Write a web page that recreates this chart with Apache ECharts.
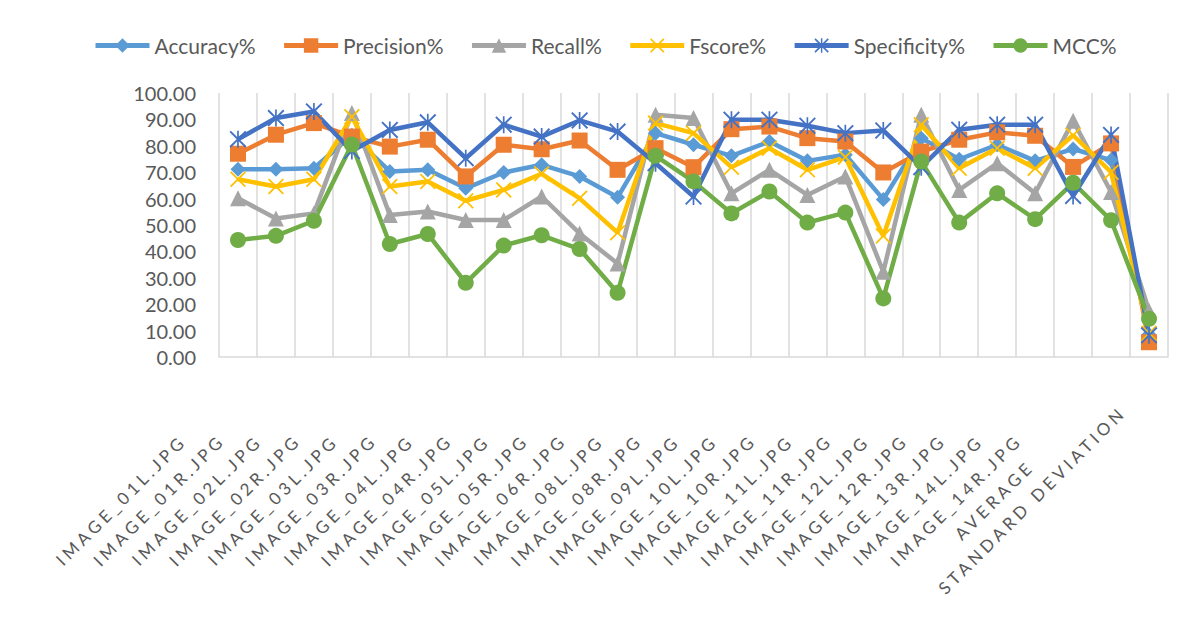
<!DOCTYPE html>
<html>
<head>
<meta charset="utf-8">
<script src="https://cdn.jsdelivr.net/npm/echarts@6/dist/echarts.min.js"></script>
<style>
  html, body { margin: 0; padding: 0; background: #fff; }
  #chart { width: 1196px; height: 631px; }
</style>
</head>
<body>
<div id="chart"></div>
<script>
// Image names plus the two summary rows
const categories = [
  'IMAGE_01L.JPG', 'IMAGE_01R.JPG', 'IMAGE_02L.JPG', 'IMAGE_02R.JPG', 'IMAGE_03L.JPG',
  'IMAGE_03R.JPG', 'IMAGE_04L.JPG', 'IMAGE_04R.JPG', 'IMAGE_05L.JPG', 'IMAGE_05R.JPG',
  'IMAGE_06R.JPG', 'IMAGE_08L.JPG', 'IMAGE_08R.JPG', 'IMAGE_09L.JPG', 'IMAGE_10L.JPG',
  'IMAGE_10R.JPG', 'IMAGE_11L.JPG', 'IMAGE_11R.JPG', 'IMAGE_12L.JPG', 'IMAGE_12R.JPG',
  'IMAGE_13R.JPG', 'IMAGE_14L.JPG', 'IMAGE_14R.JPG', 'AVERAGE', 'STANDARD DEVIATION'
];

const accuracy = [71.1, 71.1, 71.5, 84.0, 70.3, 70.9, 63.9, 69.9, 72.8, 68.4, 60.5, 84.8, 80.4,
  76.2, 81.6, 74.3, 76.6, 59.7, 82.9, 74.9, 80.4, 74.3, 78.8, 74.6, 8.5];
const precision = [77.0, 84.2, 88.6, 83.5, 79.7, 82.3, 68.4, 80.4, 78.7, 82.0, 70.9, 79.1, 71.9,
  86.3, 87.3, 82.9, 81.6, 69.9, 77.8, 82.3, 85.1, 83.8, 72.0, 80.9, 5.6];
const recall = [60.1, 52.5, 54.4, 92.4, 53.8, 55.1, 51.9, 51.9, 60.8, 46.8, 35.4, 91.8, 90.5,
  62.0, 70.9, 61.4, 68.4, 32.3, 91.8, 63.3, 73.4, 62.0, 89.5, 62.5, 17.5];
const fscore = [67.3, 64.6, 67.3, 91.0, 64.6, 66.5, 59.2, 63.3, 69.4, 60.1, 47.1, 88.6, 84.8,
  71.9, 79.1, 70.9, 75.7, 45.8, 88.0, 71.5, 79.1, 71.5, 84.0, 70.0, 9.0];
const specificity = [82.5, 90.5, 93.0, 78.0, 86.0, 88.9, 75.3, 88.0, 83.5, 89.6, 85.4, 73.4, 60.8,
  89.9, 89.9, 87.6, 84.8, 85.8, 71.9, 86.1, 88.0, 88.0, 61.0, 84.1, 8.2];
const mcc = [44.3, 45.9, 51.6, 80.5, 42.8, 46.6, 28.1, 42.2, 46.1, 40.9, 24.3, 76.2, 66.5,
  54.4, 62.7, 50.9, 54.7, 22.2, 74.1, 50.9, 62.0, 52.2, 66.0, 51.8, 14.5];

const yTicks = { min: 0, max: 100, step: 10 };

// Marker shapes for the cross and the star markers
const crossPath = 'path://M0,8 L8,0 L50,42 L92,0 L100,8 L58,50 L100,92 L92,100 L50,58 L8,100 L0,92 L42,50 Z';
const starPath = crossPath + ' M45,0 L55,0 L55,100 L45,100 Z';

const seriesDefs = [
  { name: 'Accuracy%', data: accuracy, color: '#5B9BD5', symbol: 'diamond', size: 15 },
  { name: 'Precision%', data: precision, color: '#ED7D31', symbol: 'rect', size: 16 },
  { name: 'Recall%', data: recall, color: '#A5A5A5', symbol: 'triangle', size: 16 },
  { name: 'Fscore%', data: fscore, color: '#FFC000', symbol: crossPath, size: 16 },
  { name: 'Specificity%', data: specificity, color: '#4472C4', symbol: starPath, size: 17 },
  { name: 'MCC%', data: mcc, color: '#70AD47', symbol: 'circle', size: 16 }
];

const chartEl = document.getElementById('chart');
const chart = echarts.init(chartEl, null, { renderer: 'svg' });

// Slanted category labels get wide tracking
function spaceSlantedLabels() {
  chartEl.querySelectorAll('svg text').forEach(t => {
    const m = t.getCTM();
    if (m && Math.abs(m.b) > 0.1) {
      t.style.letterSpacing = '4px';
      t.setAttribute('letter-spacing', '4px');
    }
  });
}
chart.on('finished', spaceSlantedLabels);

chart.setOption({
  animation: false,
  backgroundColor: '#ffffff',
  textStyle: { fontFamily: 'Lato' },
  legend: {
    top: 30,
    left: 88,
    itemWidth: 54,
    itemHeight: 18,
    itemGap: 26,
    lineStyle: { width: 5 },
    textStyle: { fontSize: 21, color: '#595959', fontFamily: 'Lato' },
    data: seriesDefs.map(s => s.name)
  },
  grid: {
    left: 219,
    right: 28,
    top: 93,
    bottom: 274,
    containLabel: false,
    outerBoundsMode: 'none'
  },
  xAxis: {
    type: 'category',
    data: categories,
    boundaryGap: true,
    axisLine: { show: true, lineStyle: { color: '#D9D9D9', width: 1.5 } },
    axisTick: { show: false },
    splitLine: { show: true, lineStyle: { color: '#D9D9D9', width: 1.5 } },
    axisLabel: {
      interval: 0,
      rotate: 45,
      align: 'center',
      verticalAlign: 'middle',
      margin: 26,
      padding: [0, 331, 0, 0],
      fontSize: 17,
      color: '#595959',
      fontFamily: 'Lato'
    }
  },
  yAxis: {
    type: 'value',
    min: yTicks.min,
    max: yTicks.max,
    interval: yTicks.step,
    axisLine: { show: false },
    axisTick: { show: false },
    splitLine: { show: false },
    axisLabel: {
      margin: 23,
      fontSize: 20,
      color: '#595959',
      fontFamily: 'Lato',
      formatter: v => v.toFixed(2)
    }
  },
  series: seriesDefs.map(s => ({
    name: s.name,
    type: 'line',
    data: s.data,
    symbol: s.symbol,
    symbolSize: s.size,
    showAllSymbol: true,
    color: s.color,
    lineStyle: { color: s.color, width: 4.5 },
    itemStyle: { color: s.color, borderWidth: 0 }
  }))
});
spaceSlantedLabels();
requestAnimationFrame(spaceSlantedLabels);
</script>
</body>
</html>
